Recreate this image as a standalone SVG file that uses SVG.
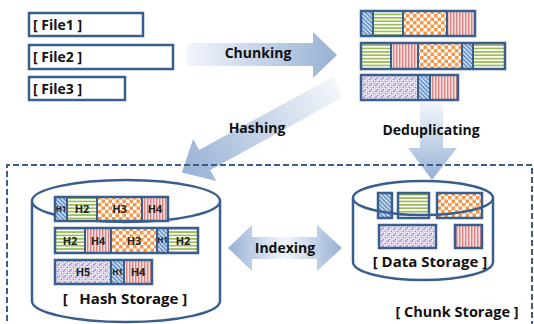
<svg xmlns="http://www.w3.org/2000/svg" width="534" height="324" viewBox="0 0 534 324">
<style>
.t{font-family:"Open Sans","Noto Sans","DejaVu Sans",sans-serif;font-weight:bold;fill:#111;}
.box{fill:#fff;stroke:#3a5f8f;stroke-width:2.5;}
.seg{stroke:#3a5f8f;stroke-width:2;}
.dbox{stroke:#3a5f8f;stroke-width:2.5;}
.bar{fill:none;stroke:#3a5f8f;stroke-width:2.5;}
.cyl{fill:#fff;stroke:#3a5f8f;stroke-width:2.5;}
.h{font-family:"Open Sans","Noto Sans",sans-serif;font-weight:bold;fill:#222;text-anchor:middle;}
</style>
<defs>
<pattern id="pBlue" width="3" height="3" patternUnits="userSpaceOnUse" patternTransform="rotate(-45)">
<rect width="3" height="3" fill="#dce6f2"/><rect width="1.4" height="3" fill="#4f81bd"/>
</pattern>
<pattern id="pGreen" width="4" height="3.4" patternUnits="userSpaceOnUse">
<rect width="4" height="3.4" fill="#fff"/><rect width="4" height="1.7" fill="#9bbb59"/>
</pattern>
<pattern id="pOrange" width="7" height="7" patternUnits="userSpaceOnUse">
<rect width="7" height="7" fill="#fff"/><rect width="3.5" height="3.5" fill="#f79646"/><rect x="3.5" y="3.5" width="3.5" height="3.5" fill="#f79646"/>
</pattern>
<pattern id="pRed" width="3" height="4" patternUnits="userSpaceOnUse">
<rect width="3" height="4" fill="#f5dddc"/><rect width="1.4" height="4" fill="#d98583"/>
</pattern>
<pattern id="pPurple" width="6" height="6" patternUnits="userSpaceOnUse">
<rect width="6" height="6" fill="#d8cce8"/>
<rect x="0" y="0" width="1" height="1" fill="#fff"/><rect x="3" y="1" width="1" height="1" fill="#9c84c2"/>
<rect x="1" y="3" width="1" height="1" fill="#9c84c2"/><rect x="4" y="4" width="1" height="1" fill="#fff"/>
<rect x="2" y="5" width="1" height="1" fill="#fff"/><rect x="5" y="2" width="1" height="1" fill="#fff"/>
<rect x="4" y="0" width="1" height="1" fill="#9c84c2"/><rect x="0" y="4" width="1" height="1" fill="#fff"/>
<rect x="2" y="2" width="1" height="1" fill="#fff"/><rect x="5" y="5" width="1" height="1" fill="#9c84c2"/>
</pattern>
<linearGradient id="gRight" x1="0" y1="0" x2="1" y2="0">
<stop offset="0" stop-color="#f3f6fb"/><stop offset="1" stop-color="#97b1d5"/>
</linearGradient>
<linearGradient id="gDown" x1="0" y1="0" x2="0" y2="1">
<stop offset="0" stop-color="#f3f6fb"/><stop offset="1" stop-color="#97b1d5"/>
</linearGradient>
<linearGradient id="gBoth" x1="0" y1="0" x2="1" y2="0">
<stop offset="0" stop-color="#97b1d5"/><stop offset="0.5" stop-color="#f3f6fb"/><stop offset="1" stop-color="#97b1d5"/>
</linearGradient>
</defs>

<g id="connectors">
<polygon id="chunking-arrow" points="187,43 313,43 313,32 337,55 313,78 313,66 187,66" fill="url(#gRight)"/>
<polygon id="hashing-arrow" transform="translate(338,87) rotate(151.3)" points="0,-11.5 152,-11.5 152,-24 178,0 152,24 152,11.5 0,11.5" fill="url(#gRight)"/>
<polygon id="dedup-arrow" points="420,103 443,103 443,148 457,148 432,180 408,148 420,148" fill="url(#gDown)"/>
<polygon id="indexing-arrow" points="228,248 252,225 252,237 317,237 317,225 342,248 317,271 317,259 252,259 252,271" fill="url(#gBoth)"/>
<text class="t" x="258" y="58" font-size="14" text-anchor="middle">Chunking</text>
<text class="t" x="257" y="133" font-size="14" text-anchor="middle">Hashing</text>
<text class="t" x="431" y="135" font-size="14" text-anchor="middle">Deduplicating</text>
<text class="t" x="285" y="253" font-size="14" text-anchor="middle">Indexing</text>
</g>

<g id="file1"><rect class="box" x="29" y="13" width="114" height="23"/><text class="t" x="33" y="29.5" font-size="14">[ File1 ]</text></g>
<g id="file2"><rect class="box" x="29" y="45" width="144" height="24"/><text class="t" x="33" y="62" font-size="14">[ File2 ]</text></g>
<g id="file3"><rect class="box" x="29" y="77" width="96" height="23"/><text class="t" x="33" y="93.5" font-size="14">[ File3 ]</text></g>

<g id="chunks1">
<rect class="seg" x="361" y="11" width="12" height="25" fill="url(#pBlue)"/>
<rect class="seg" x="373" y="11" width="30" height="25" fill="url(#pGreen)"/>
<rect class="seg" x="403" y="11" width="44" height="25" fill="url(#pOrange)"/>
<rect class="seg" x="447" y="11" width="28" height="25" fill="url(#pRed)"/>
<rect class="bar" x="361" y="11" width="114" height="25"/>
</g>
<g id="chunks2">
<rect class="seg" x="361" y="43" width="30" height="26" fill="url(#pGreen)"/>
<rect class="seg" x="391" y="43" width="27" height="26" fill="url(#pRed)"/>
<rect class="seg" x="418" y="43" width="44" height="26" fill="url(#pOrange)"/>
<rect class="seg" x="462" y="43" width="11" height="26" fill="url(#pBlue)"/>
<rect class="seg" x="473" y="43" width="32" height="26" fill="url(#pGreen)"/>
<rect class="bar" x="361" y="43" width="144" height="26"/>
</g>
<g id="chunks3">
<rect class="seg" x="361" y="75" width="57" height="25" fill="url(#pPurple)"/>
<rect class="seg" x="418" y="75" width="12" height="25" fill="url(#pBlue)"/>
<rect class="seg" x="430" y="75" width="28" height="25" fill="url(#pRed)"/>
<rect class="bar" x="361" y="75" width="97" height="25"/>
</g>

<g id="hash-storage">
<path class="cyl" d="M32,201 L32,301 A94,21 0 0 0 220,301 L220,201"/>
<ellipse class="cyl" cx="126" cy="201" rx="94" ry="21"/>
<rect class="seg" x="55" y="197" width="12" height="24" fill="url(#pBlue)"/>
<rect class="seg" x="67" y="197" width="30" height="24" fill="url(#pGreen)"/>
<rect class="seg" x="97" y="197" width="45" height="24" fill="url(#pOrange)"/>
<rect class="seg" x="142" y="197" width="26" height="24" fill="url(#pRed)"/>
<rect class="bar" x="55" y="197" width="113" height="24"/>
<text class="h" x="61" y="212" font-size="8">H1</text>
<text class="h" x="82" y="213" font-size="11">H2</text>
<text class="h" x="119.5" y="213" font-size="11">H3</text>
<text class="h" x="155" y="213" font-size="11">H4</text>

<rect class="seg" x="55" y="228" width="30" height="25" fill="url(#pGreen)"/>
<rect class="seg" x="85" y="228" width="26" height="25" fill="url(#pRed)"/>
<rect class="seg" x="111" y="228" width="46" height="25" fill="url(#pOrange)"/>
<rect class="seg" x="157" y="228" width="11" height="25" fill="url(#pBlue)"/>
<rect class="seg" x="168" y="228" width="30" height="25" fill="url(#pGreen)"/>
<rect class="bar" x="55" y="228" width="143" height="25"/>
<text class="h" x="70" y="245" font-size="11">H2</text>
<text class="h" x="98" y="245" font-size="11">H4</text>
<text class="h" x="134" y="245" font-size="11">H3</text>
<text class="h" x="162.5" y="243" font-size="8">H1</text>
<text class="h" x="183" y="245" font-size="11">H2</text>

<rect class="seg" x="55" y="260" width="56" height="24" fill="url(#pPurple)"/>
<rect class="seg" x="111" y="260" width="13" height="24" fill="url(#pBlue)"/>
<rect class="seg" x="124" y="260" width="28" height="24" fill="url(#pRed)"/>
<rect class="bar" x="55" y="260" width="97" height="24"/>
<text class="h" x="83" y="276" font-size="11">H5</text>
<text class="h" x="117.5" y="275" font-size="8">H1</text>
<text class="h" x="138" y="276" font-size="11">H4</text>
<text class="t" x="125" y="304" font-size="15" text-anchor="middle" style="white-space:pre">[   Hash Storage ]</text>
</g>

<g id="data-storage">
<path class="cyl" d="M353,198 L353,262 A70,18 0 0 0 493,262 L493,198"/>
<ellipse cx="423" cy="198" rx="70" ry="17" fill="#fff"/>
<rect class="dbox" x="378" y="193" width="14" height="25" fill="url(#pBlue)"/>
<rect class="dbox" x="398" y="193" width="31" height="25" fill="url(#pGreen)"/>
<rect class="dbox" x="437" y="193" width="45" height="25" fill="url(#pOrange)"/>
<rect class="dbox" x="379" y="225" width="57" height="23" fill="url(#pPurple)"/>
<rect class="dbox" x="455" y="225" width="27" height="23" fill="url(#pRed)"/>
<ellipse cx="423" cy="198" rx="70" ry="17" fill="none" stroke="#3a5f8f" stroke-width="2.5"/>
<text class="t" x="430" y="267" font-size="15" text-anchor="middle">[ Data Storage ]</text>
</g>

<g id="chunk-storage">
<path d="M7,330 V165 H532 V330" fill="none" stroke="#3a5f8f" stroke-width="2" stroke-dasharray="6,3"/>
<text class="t" x="457" y="317" font-size="14.5" text-anchor="middle">[ Chunk Storage ]</text>
</g>
</svg>
